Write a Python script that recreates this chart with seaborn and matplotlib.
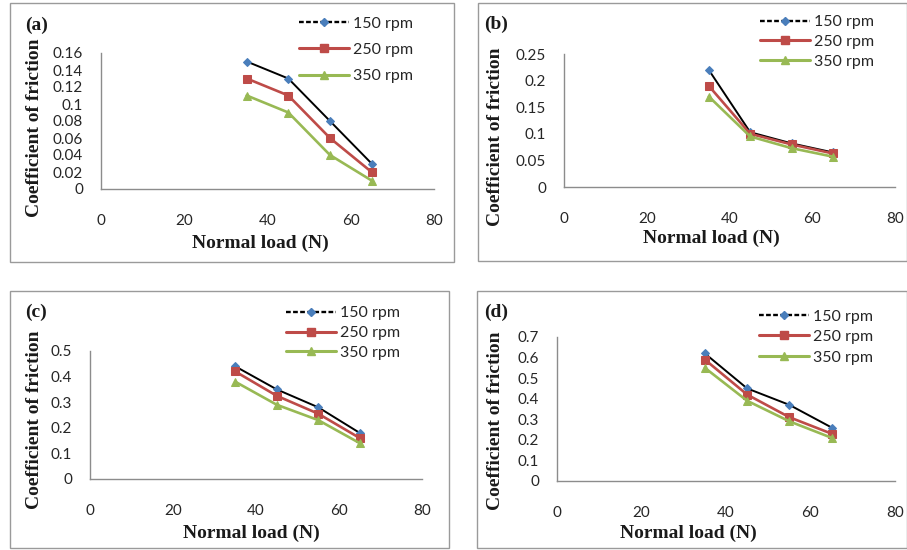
import numpy as np
import pandas as pd
import seaborn as sns
import matplotlib
matplotlib.use("Agg")
import matplotlib.pyplot as plt
from matplotlib.patches import Rectangle
from matplotlib.lines import Line2D
from matplotlib.ticker import FuncFormatter, MultipleLocator

# ---- data ----
loads = [35, 45, 55, 65]
speeds = ["150 rpm", "250 rpm", "350 rpm"]

cof_a_150 = [0.15, 0.13, 0.08, 0.03]
cof_a_250 = [0.13, 0.11, 0.06, 0.02]
cof_a_350 = [0.11, 0.09, 0.04, 0.01]

cof_b_150 = [0.22, 0.103, 0.082, 0.065]
cof_b_250 = [0.19, 0.100, 0.080, 0.063]
cof_b_350 = [0.17, 0.095, 0.073, 0.057]

cof_c_150 = [0.44, 0.35, 0.28, 0.18]
cof_c_250 = [0.42, 0.325, 0.255, 0.16]
cof_c_350 = [0.38, 0.29, 0.23, 0.14]

cof_d_150 = [0.62, 0.45, 0.37, 0.26]
cof_d_250 = [0.59, 0.42, 0.31, 0.23]
cof_d_350 = [0.55, 0.39, 0.29, 0.21]

panel_names = ["(a)", "(b)", "(c)", "(d)"]
panel_series = [
    [cof_a_150, cof_a_250, cof_a_350],
    [cof_b_150, cof_b_250, cof_b_350],
    [cof_c_150, cof_c_250, cof_c_350],
    [cof_d_150, cof_d_250, cof_d_350],
]
y_max = [0.16, 0.25, 0.5, 0.7]
y_step = [0.02, 0.05, 0.1, 0.1]
x_ticks = [0, 20, 40, 60, 80]

# ---- styling ----
sns.set_style("white")
plt.rcParams["font.family"] = ["Lato", "DejaVu Sans"]

W, H = 907, 550
fig = plt.figure(figsize=(W / 100, H / 100), dpi=100)

def fx(px):
    return px / W

def fy(py):
    return 1 - py / H

line_col = {"150 rpm": "#000000", "250 rpm": "#BE4B48", "350 rpm": "#98B954"}
mark_col = {"150 rpm": "#4A7EBB", "250 rpm": "#BE4B48", "350 rpm": "#98B954"}
marker = {"150 rpm": "D", "250 rpm": "s", "350 rpm": "^"}
msize = {"150 rpm": 4.5, "250 rpm": 6, "350 rpm": 6}
lwidth = {"150 rpm": 1.4, "250 rpm": 1.9, "350 rpm": 1.9}
spine_col = "#8C8C8C"
text_col = "#262626"

# layout in pixels
frames = [(10, 3, 454, 262), (478, 3, 907, 261), (10, 291, 449, 548), (477, 291, 907, 548)]
plot_boxes = [(101, 53, 434, 189), (564, 54, 895, 187), (90, 351, 422, 479), (557, 337, 895, 481)]
tag_pos = [(37, 25), (496, 24), (36, 312), (496, 312)]
ylab_pos = [(35, 128), (496, 137), (35, 420), (496, 421)]
xlab_pos = [(260, 243), (711, 238), (251, 533), (688, 533)]
leg_pos = [(299, 50), (760, 42), (286, 333), (759, 337)]
leg_spacing = [0.75, 0.36, 0.36, 0.4]

serif = ["Liberation Serif", "DejaVu Serif"]

for i in range(4):
    x0, y0, x1, y1 = frames[i]
    fig.add_artist(Rectangle((fx(x0), fy(y1)), fx(x1) - fx(x0), fy(y0) - fy(y1),
                             transform=fig.transFigure, fill=False,
                             edgecolor="#9A9A9A", linewidth=1.0))

    px0, py0, px1, py1 = plot_boxes[i]
    ax = fig.add_axes([fx(px0), fy(py1), fx(px1) - fx(px0), fy(py0) - fy(py1)])
    ax.set_facecolor("none")

    rows = []
    for s, vals in zip(speeds, panel_series[i]):
        for xv, yv in zip(loads, vals):
            rows.append({"load": xv, "cof": yv, "speed": s})
    df = pd.DataFrame(rows)

    for s in speeds:
        sns.lineplot(data=df[df["speed"] == s], x="load", y="cof", ax=ax,
                     color=line_col[s], linewidth=lwidth[s], marker=marker[s],
                     markersize=msize[s], markerfacecolor=mark_col[s],
                     markeredgecolor=mark_col[s], label=s, legend=False,
                     errorbar=None, zorder=3)

    ax.set_xlim(0, 80)
    ax.set_ylim(0, y_max[i])
    ax.set_xticks(x_ticks)
    ax.yaxis.set_major_locator(MultipleLocator(y_step[i]))
    ax.yaxis.set_major_formatter(FuncFormatter(lambda v, p: f"{round(v, 4):g}"))
    for sp in ["top", "right"]:
        ax.spines[sp].set_visible(False)
    for sp in ["left", "bottom"]:
        ax.spines[sp].set_color(spine_col)
        ax.spines[sp].set_linewidth(1.0)
    ax.tick_params(axis="both", colors=spine_col, length=5, width=1.0,
                   direction="out", labelsize=11, labelcolor=text_col)
    ax.tick_params(axis="x", pad=13)
    ax.tick_params(axis="y", pad=8)
    ax.set_xlim(0, 80)
    ax.set_ylim(0, y_max[i])

    ax.set_xlabel("Normal load (N)", fontsize=14, fontweight="bold",
                  family=serif, color="#1A1A1A")
    ax.set_ylabel("Coefficient of friction", fontsize=14, fontweight="bold",
                  family=serif, color="#1A1A1A")
    ax.xaxis.set_label_coords(fx(xlab_pos[i][0]), fy(xlab_pos[i][1]),
                              transform=fig.transFigure)
    ax.yaxis.set_label_coords(fx(ylab_pos[i][0]), fy(ylab_pos[i][1]),
                              transform=fig.transFigure)
    ax.xaxis.label.set_va("center")
    ax.yaxis.label.set_va("center")

    fig.text(fx(tag_pos[i][0]), fy(tag_pos[i][1]), panel_names[i],
             fontsize=14, fontweight="bold", family=serif,
             ha="center", va="center", color="#1A1A1A")

    handles = []
    for s in speeds:
        handles.append(Line2D([], [], color=line_col[s], linewidth=lwidth[s] + 0.3,
                              linestyle=(0, (2, 1)) if s == "150 rpm" else "-",
                              marker=marker[s], markersize=msize[s],
                              markerfacecolor=mark_col[s], markeredgecolor=mark_col[s]))
    ax.legend(handles, speeds, loc="center left",
              bbox_to_anchor=(fx(leg_pos[i][0]), fy(leg_pos[i][1])),
              bbox_transform=fig.transFigure, frameon=False, borderpad=0,
              borderaxespad=0, handlelength=3.1, handletextpad=0.3,
              labelspacing=leg_spacing[i], fontsize=11.5, labelcolor=text_col)

fig.savefig("out.png", dpi=100, facecolor="white")
